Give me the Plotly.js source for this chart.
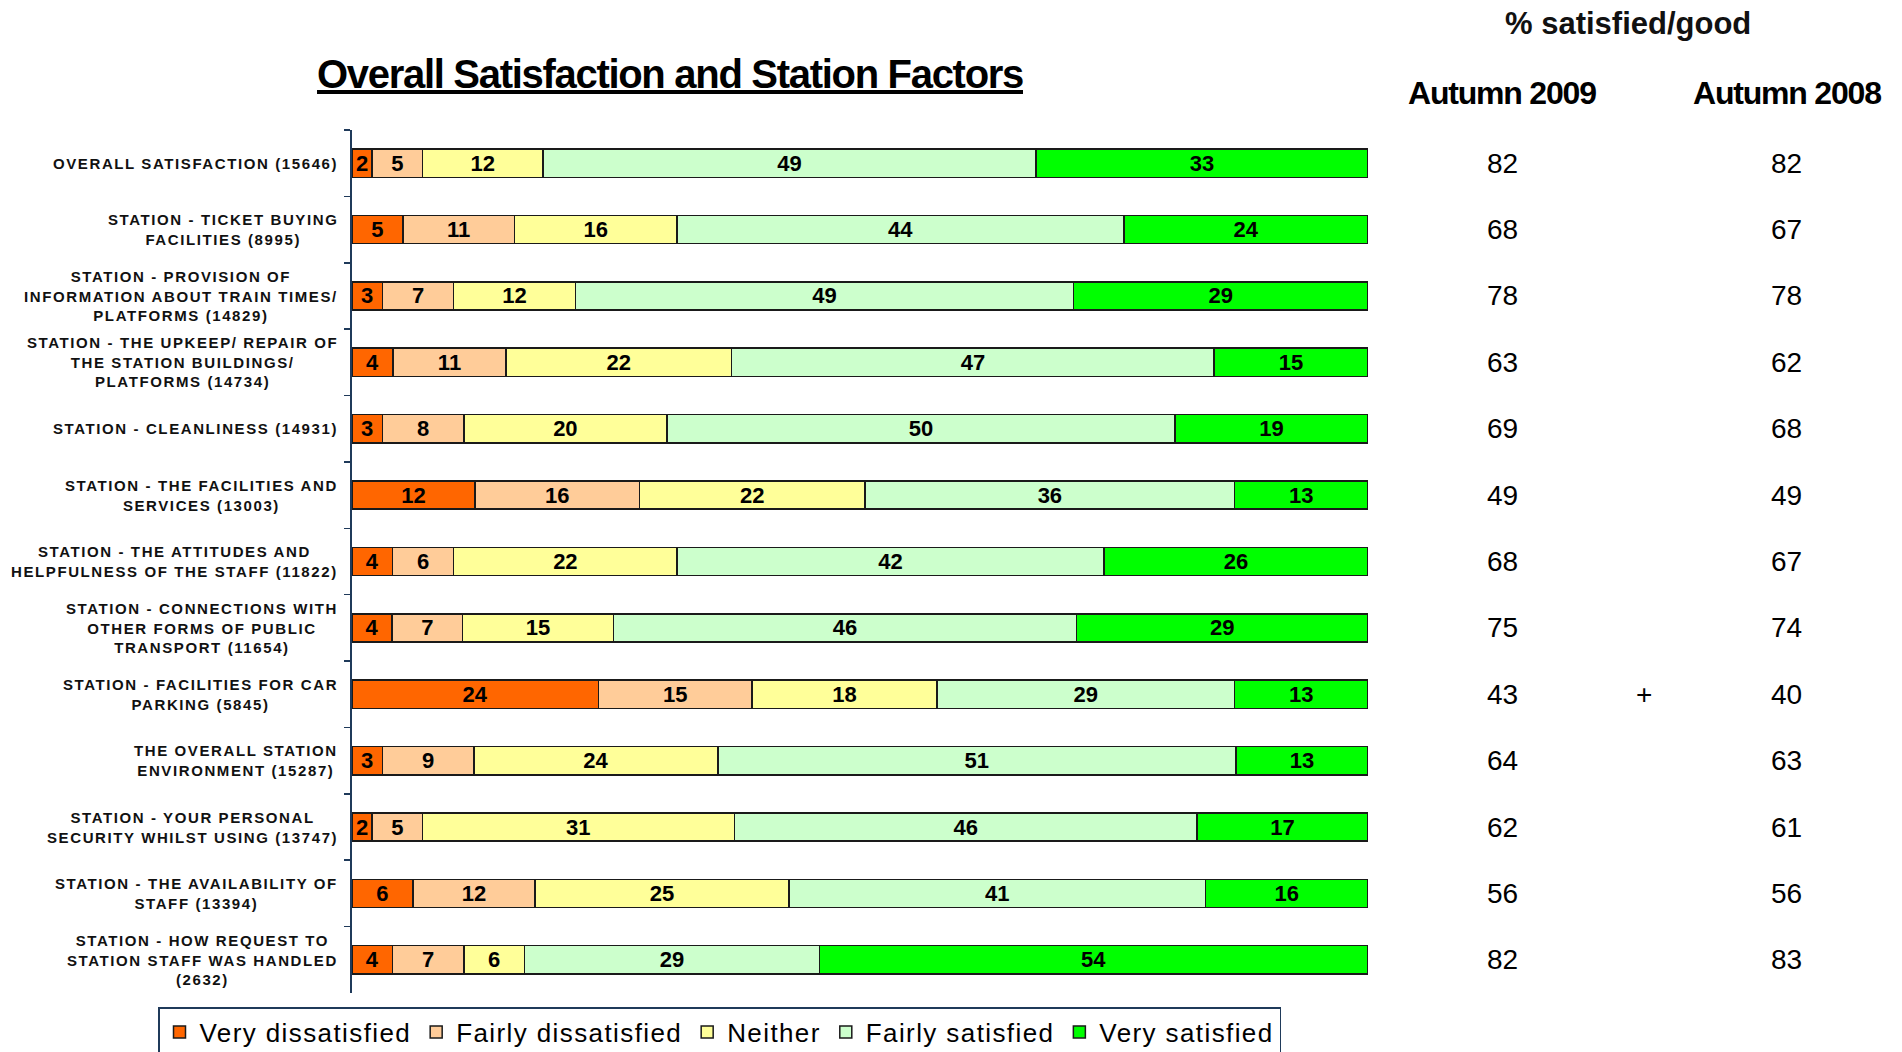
<!DOCTYPE html>
<html>
<head>
<meta charset="utf-8">
<script src="https://cdn.plot.ly/plotly-3.0.1.min.js"></script>
<style>
  html, body { margin: 0; padding: 0; background: #fff; overflow: hidden; }
  #chart { width: 1902px; height: 1052px; }
</style>
</head>
<body>
<div id="chart"></div>
<script>
const categories = [
  'OVERALL SATISFACTION (15646)',
  'STATION - TICKET BUYING<br>FACILITIES (8995)',
  'STATION - PROVISION OF<br>INFORMATION ABOUT TRAIN TIMES/<br>PLATFORMS (14829)',
  'STATION - THE UPKEEP/ REPAIR OF<br>THE STATION BUILDINGS/<br>PLATFORMS (14734)',
  'STATION - CLEANLINESS (14931)',
  'STATION - THE FACILITIES AND<br>SERVICES (13003)',
  'STATION - THE ATTITUDES AND<br>HELPFULNESS OF THE STAFF (11822)',
  'STATION - CONNECTIONS WITH<br>OTHER FORMS OF PUBLIC<br>TRANSPORT (11654)',
  'STATION - FACILITIES FOR CAR<br>PARKING (5845)',
  'THE OVERALL STATION<br>ENVIRONMENT (15287)',
  'STATION - YOUR PERSONAL<br>SECURITY WHILST USING (13747)',
  'STATION - THE AVAILABILITY OF<br>STAFF (13394)',
  'STATION - HOW REQUEST TO<br>STATION STAFF WAS HANDLED<br>(2632)'
];

const seriesNames = ['Very dissatisfied', 'Fairly dissatisfied', 'Neither', 'Fairly satisfied', 'Very satisfied'];
const veryDissatisfied   = [2, 5, 3, 4, 3, 12, 4, 4, 24, 3, 2, 6, 4];
const fairlyDissatisfied = [5, 11, 7, 11, 8, 16, 6, 7, 15, 9, 5, 12, 7];
const neither            = [12, 16, 12, 22, 20, 22, 22, 15, 18, 24, 31, 25, 6];
const fairlySatisfied    = [49, 44, 49, 47, 50, 36, 42, 46, 29, 51, 46, 41, 29];
const verySatisfied      = [33, 24, 29, 15, 19, 13, 26, 29, 13, 13, 17, 16, 54];

const autumn2009 = [82, 68, 78, 63, 69, 49, 68, 75, 43, 64, 62, 56, 82];
const autumn2008 = [82, 67, 78, 62, 68, 49, 67, 74, 40, 63, 61, 56, 83];
const significance = ['', '', '', '', '', '', '', '', '+', '', '', '', ''];

const colors = ['#FF6600', '#FFCC99', '#FFFF99', '#CCFFCC', '#00FF00'];
const seriesValues = [veryDissatisfied, fairlyDissatisfied, neither, fairlySatisfied, verySatisfied];

const FONT = 'Liberation Sans, Arial, sans-serif';
const AXIS_COLOR = '#1F3A5A';

const traces = seriesValues.map((vals, k) => ({
  type: 'bar',
  orientation: 'h',
  name: '<span style="letter-spacing:1.4px">' + seriesNames[k] + '</span>',
  y: categories,
  x: vals,
  text: vals.map(String),
  textposition: 'inside',
  insidetextanchor: 'middle',
  textangle: 0,
  constraintext: 'none',
  textfont: { family: FONT, size: 22, color: '#000', weight: 'bold' },
  marker: { color: colors[k], line: { color: '#1a1a1a', width: 1.5 } },
  hoverinfo: 'x'
}));

const annotations = [];
categories.forEach((c, i) => {
  const txt = c.split('<br>').map(l => '<span style="letter-spacing:1.6px">' + l + '</span>').join('<br>');
  annotations.push({
    xref: 'paper', yref: 'y', x: 0, y: i, xanchor: 'right', yanchor: 'middle',
    xshift: -12, text: txt, align: 'center', showarrow: false,
    font: { family: FONT, size: 15, color: '#111', weight: 'bold' }
  });
  annotations.push({
    xref: 'paper', yref: 'y', x: 1.1319, y: i, xanchor: 'center', yanchor: 'middle',
    text: String(autumn2009[i]), showarrow: false,
    font: { family: FONT, size: 28, color: '#000' }
  });
  annotations.push({
    xref: 'paper', yref: 'y', x: 1.4124, y: i, xanchor: 'center', yanchor: 'middle',
    text: String(autumn2008[i]), showarrow: false,
    font: { family: FONT, size: 28, color: '#000' }
  });
  if (significance[i]) {
    annotations.push({
      xref: 'paper', yref: 'y', x: 1.2717, y: i, xanchor: 'center', yanchor: 'middle',
      text: significance[i], showarrow: false,
      font: { family: FONT, size: 28, color: '#000' }
    });
  }
});
annotations.push({
  xref: 'paper', yref: 'paper', x: 1.256, y: 1.1232, xanchor: 'center', yanchor: 'middle',
  text: '<b>% satisfied/good</b>', showarrow: false,
  font: { family: FONT, size: 31, color: '#111' }
});
annotations.push({
  xref: 'paper', yref: 'paper', x: 1.1319, y: 1.0429, xanchor: 'center', yanchor: 'middle',
  text: '<b><span style="letter-spacing:-1.2px">Autumn 2009</span></b>', showarrow: false,
  font: { family: FONT, size: 32, color: '#000' }
});
annotations.push({
  xref: 'paper', yref: 'paper', x: 1.4124, y: 1.0429, xanchor: 'center', yanchor: 'middle',
  text: '<b><span style="letter-spacing:-1.2px">Autumn 2008</span></b>', showarrow: false,
  font: { family: FONT, size: 32, color: '#000' }
});

const layout = {
  width: 1902, height: 1052,
  paper_bgcolor: '#fff', plot_bgcolor: '#fff',
  margin: { l: 352, r: 534, t: 130, b: 59, pad: 0, autoexpand: false },
  barmode: 'stack', barnorm: 'percent', bargap: 0.575,
  showlegend: true,
  title: {
    text: '<b><u><span style="letter-spacing:-1.3px">Overall Satisfaction and Station Factors</span></u></b>',
    font: { family: FONT, size: 40, color: '#000' },
    xref: 'paper', x: 0.313, xanchor: 'center',
    yref: 'container', y: 1 - 74 / 1052, yanchor: 'middle'
  },
  xaxis: { range: [0, 100], visible: false, fixedrange: true },
  yaxis: {
    type: 'category', autorange: 'reversed',
    showline: true, linecolor: AXIS_COLOR, linewidth: 2,
    ticks: 'outside', ticklen: 6, tickwidth: 1.5, tickcolor: AXIS_COLOR,
    tickson: 'boundaries', showticklabels: false, showgrid: false, zeroline: false,
    fixedrange: true
  },
  legend: {
    orientation: 'h', traceorder: 'normal',
    x: (158 - 352) / 1016, xanchor: 'left',
    y: (993 - 1007) / 863, yanchor: 'top',
    bgcolor: '#fff', bordercolor: AXIS_COLOR, borderwidth: 1.5,
    font: { family: FONT, size: 26, color: '#000' },
    itemclick: false, itemdoubleclick: false
  },
  annotations: annotations
};

Plotly.newPlot('chart', traces, layout, { displayModeBar: false, staticPlot: true });
</script>
</body>
</html>
